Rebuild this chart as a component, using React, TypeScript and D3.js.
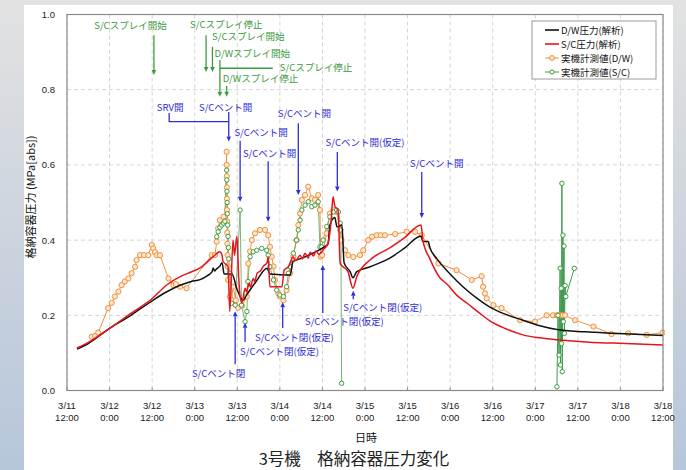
import * as d3 from 'd3';

// hours after 2011-03-11 12:00
const base = new Date(2011, 2, 11, 12, 0);
const toDate = (h: number) => new Date(base.getTime() + h * 3600e3);

type Pt = [number, number];

const legendLabels = ['D/W圧力(解析)', 'S/C圧力(解析)', '実機計測値(D/W)', '実機計測値(S/C)'];
const yTicks = [0, 0.2, 0.4, 0.6, 0.8, 1.0];

const dwAnalysis: Pt[] = [
  [2.8, 0.11], [6, 0.125], [12.1, 0.166], [18, 0.2], [24.2, 0.24], [28, 0.262], [31.9, 0.28], [35, 0.29],
  [37.5, 0.295], [39.5, 0.305], [40.9, 0.316], [41.2, 0.326], [41.6, 0.318], [42.0, 0.322], [43.1, 0.331],
  [43.7, 0.34], [44.3, 0.31], [45.4, 0.31], [46.5, 0.31], [47.9, 0.27], [49.6, 0.24], [50.7, 0.255],
  [53.3, 0.29], [56.4, 0.325], [57.2, 0.31], [60, 0.308], [62.9, 0.307], [63.7, 0.343], [65.7, 0.35],
  [69.3, 0.365], [72.2, 0.38], [73.6, 0.39], [74.1, 0.44], [75.5, 0.46], [76.1, 0.435], [77.5, 0.44],
  [78.1, 0.34], [79.8, 0.316], [80.6, 0.3], [81.7, 0.316], [85.4, 0.329], [91, 0.352], [95.3, 0.38],
  [99.8, 0.411], [100.3, 0.396], [101.8, 0.396], [102.3, 0.38], [104.3, 0.35], [108, 0.31], [111.6, 0.276],
  [115.6, 0.245], [119.2, 0.222], [123.5, 0.203], [128.5, 0.187], [133.3, 0.172], [138.1, 0.162],
  [146, 0.156], [153.9, 0.152], [168, 0.146],
];

const scAnalysis: Pt[] = [
  [2.8, 0.113], [6, 0.128], [12.1, 0.166], [18, 0.205], [24.2, 0.246], [28, 0.28], [31.9, 0.303], [35, 0.315],
  [37.5, 0.326], [41.2, 0.356], [43.1, 0.369], [43.7, 0.36], [44.0, 0.343], [45.4, 0.33], [45.9, 0.21],
  [46.8, 0.4], [47.2, 0.36], [47.9, 0.41], [48.4, 0.3], [48.8, 0.25], [49.3, 0.233], [50.2, 0.272],
  [50.6, 0.262], [51.3, 0.285], [51.7, 0.275], [52.5, 0.298], [52.9, 0.29], [53.6, 0.312], [54.5, 0.318],
  [55.3, 0.33], [56.4, 0.34], [56.7, 0.356], [57.2, 0.276], [60.6, 0.276], [61.2, 0.32], [62.5, 0.33],
  [63.7, 0.356], [64.5, 0.345], [65.7, 0.36], [66.3, 0.35], [67.1, 0.365], [68.0, 0.352], [68.5, 0.368],
  [69.5, 0.358], [70.2, 0.372], [71.0, 0.362], [72.2, 0.374], [73.5, 0.39], [74.4, 0.445], [75.0, 0.515],
  [75.5, 0.49], [76.4, 0.48], [77.0, 0.338], [79.2, 0.316], [80.6, 0.272], [81.7, 0.303], [85.4, 0.347],
  [91, 0.379], [95, 0.405], [99.8, 0.44], [100.3, 0.4], [102.3, 0.35], [105.1, 0.3], [107.1, 0.283],
  [109.9, 0.253], [112.8, 0.232], [116.4, 0.205], [119.2, 0.185], [123.5, 0.165], [128.5, 0.148],
  [133.3, 0.14], [139, 0.134], [147.4, 0.128], [153.9, 0.126], [168, 0.121],
];

const dwMeasured: Pt[] = [
  [6.96, 0.143], [7.9, 0.145], [8.8, 0.154], [11.6, 0.219], [12.6, 0.233], [13.5, 0.25], [14.5, 0.263],
  [15.4, 0.28], [16.3, 0.29], [17.3, 0.298], [18.2, 0.312], [19.2, 0.329], [19.6, 0.347], [20.6, 0.36],
  [21.7, 0.36], [22.9, 0.36], [23.9, 0.387], [24.3, 0.378], [24.8, 0.368], [25.3, 0.36], [26.2, 0.36],
  [28.6, 0.298], [30.0, 0.28], [30.7, 0.283], [31.9, 0.276], [33.7, 0.272],
  [40.8, 0.36], [41.7, 0.36], [42.2, 0.396], [42.6, 0.431], [43.1, 0.453], [44.1, 0.462], [44.5, 0.45],
  [45.0, 0.635], [45.02, 0.6], [45.04, 0.57], [45.06, 0.54], [45.08, 0.51], [45.1, 0.48], [45.12, 0.45],
  [45.15, 0.42], [45.2, 0.39], [45.25, 0.36], [45.3, 0.33], [45.4, 0.294], [45.9, 0.25], [46.4, 0.24],
  [46.8, 0.276], [47.6, 0.24], [48.2, 0.22], [49.3, 0.225], [50.7, 0.25], [51.1, 0.338], [51.6, 0.37],
  [52.1, 0.4], [53.0, 0.418], [54.4, 0.427], [55.8, 0.427], [56.7, 0.413], [57.2, 0.382], [57.7, 0.356],
  [58.2, 0.33], [58.6, 0.294], [59.6, 0.258], [60.0, 0.25], [61.0, 0.24], [61.9, 0.267], [62.9, 0.312],
  [63.8, 0.356], [64.7, 0.4], [65.2, 0.44], [65.7, 0.471], [66.2, 0.507], [67.1, 0.52], [68.0, 0.542],
  [69.0, 0.511], [69.9, 0.507], [70.8, 0.52], [71.3, 0.48], [71.5, 0.356], [71.9, 0.36], [73.2, 0.418],
  [74.1, 0.471], [75.1, 0.48], [76.0, 0.475], [77.0, 0.427], [77.4, 0.4], [78.4, 0.373], [79.3, 0.36],
  [80.7, 0.355], [82.6, 0.36], [83.5, 0.373], [84.9, 0.4], [86.0, 0.409], [87.3, 0.413], [88.4, 0.413],
  [89.6, 0.413], [92.5, 0.416], [95.8, 0.422], [98.1, 0.422], [100.0, 0.413], [104.7, 0.338],
  [109.8, 0.32], [114.1, 0.294], [116.9, 0.304], [117.3, 0.276], [117.8, 0.258], [118.3, 0.245],
  [120.2, 0.227], [122.5, 0.219], [127.7, 0.187], [131.9, 0.183], [135.2, 0.2], [137.0, 0.2], [138.1, 0.2],
  [138.6, 0.2], [139.0, 0.2], [139.6, 0.2], [140.4, 0.2], [143.2, 0.187], [148.4, 0.17], [153.5, 0.15],
  [158.2, 0.152], [163.4, 0.148], [167.9, 0.154],
];

const scMeasured1: Pt[] = [
  [42.2, 0.409], [42.6, 0.422], [43.1, 0.434], [43.6, 0.44], [44.1, 0.445], [44.5, 0.45], [45.0, 0.586],
  [45.05, 0.56], [45.1, 0.53], [45.15, 0.5], [45.2, 0.47], [45.3, 0.44], [45.4, 0.41], [45.5, 0.38],
  [45.6, 0.35], [45.9, 0.312], [46.4, 0.232], [47.4, 0.227], [48.8, 0.48], [49.2, 0.227], [50.2, 0.183],
  [50.7, 0.21], [51.0, 0.29], [51.6, 0.356], [52.5, 0.369], [53.5, 0.373], [54.9, 0.378], [56.3, 0.373],
  [56.7, 0.36], [57.2, 0.329], [58.2, 0.294], [59.1, 0.267], [60.0, 0.254], [61.0, 0.25], [61.9, 0.276],
  [62.4, 0.312], [62.9, 0.329], [63.8, 0.365], [64.7, 0.4], [65.2, 0.427], [65.7, 0.453], [66.2, 0.48],
  [67.1, 0.493], [68.0, 0.502], [69.0, 0.489], [69.9, 0.493], [70.8, 0.502], [71.3, 0.382], [71.8, 0.382],
  [72.2, 0.4], [73.2, 0.436], [74.1, 0.462], [75.1, 0.475], [76.0, 0.48], [76.5, 0.475], [77.0, 0.445],
  [77.2, 0.427], [77.4, 0.019],
];

const scMeasured2: Pt[] = [
  [138.1, 0.01], [138.4, 0.2], [138.7, 0.094], [139.0, 0.325], [139.1, 0.068], [139.3, 0.272],
  [139.4, 0.125], [139.5, 0.551], [139.6, 0.05], [139.8, 0.413], [139.9, 0.183], [140.1, 0.384],
  [140.2, 0.152], [140.4, 0.279], [140.6, 0.25], [143.0, 0.325],
];

type Note = {
  label: string;
  textH: number;
  textV: number;
  arrowH?: number;
  fromV?: number;
  toV?: number;
  path?: Pt[];
};

const sprayNotes: Note[] = [
  { label: 'S/Cスプレイ開始', textH: 7.7, textV: 0.972, arrowH: 24.5, fromV: 0.945, toV: 0.839 },
  { label: 'S/Cスプレイ停止', textH: 34.7, textV: 0.975, arrowH: 39.2, fromV: 0.945, toV: 0.847 },
  { label: 'S/Cスプレイ開始', textH: 40.9, textV: 0.943, arrowH: 41.0, fromV: 0.914, toV: 0.847 },
  { label: 'D/Wスプレイ開始', textH: 41.6, textV: 0.898, arrowH: 43.1, fromV: 0.879, toV: 0.781 },
  { label: 'S/Cスプレイ停止', textH: 60.0, textV: 0.861, path: [[43.1, 0.857], [58.0, 0.857]] },
  { label: 'D/Wスプレイ停止', textH: 43.9, textV: 0.831, arrowH: 45.0, fromV: 0.81, toV: 0.781 },
];

const ventNotes: Note[] = [
  { label: 'SRV開', textH: 25.3, textV: 0.754, path: [[28.8, 0.738], [28.8, 0.715], [45.6, 0.715]] },
  { label: 'S/Cベント開', textH: 37.2, textV: 0.754, arrowH: 45.6, fromV: 0.741, toV: 0.662 },
  { label: 'S/Cベント開', textH: 47.2, textV: 0.688, arrowH: 48.8, fromV: 0.664, toV: 0.502 },
  { label: 'S/Cベント開', textH: 49.6, textV: 0.632, arrowH: 56.7, fromV: 0.61, toV: 0.449 },
  { label: 'S/Cベント開', textH: 59.4, textV: 0.738, arrowH: 65.2, fromV: 0.711, toV: 0.52 },
  { label: 'S/Cベント開(仮定)', textH: 72.9, textV: 0.661, arrowH: 76.2, fromV: 0.634, toV: 0.529 },
  { label: 'S/Cベント開', textH: 96.7, textV: 0.605, arrowH: 100.0, fromV: 0.581, toV: 0.459 },
  { label: 'S/Cベント閉', textH: 35.2, textV: 0.047, arrowH: 47.4, fromV: 0.07, toV: 0.211 },
  { label: 'S/Cベント閉(仮定)', textH: 48.8, textV: 0.106, arrowH: 50.2, fromV: 0.129, toV: 0.18 },
  { label: 'S/Cベント閉(仮定)', textH: 53.0, textV: 0.143, arrowH: 60.8, fromV: 0.166, toV: 0.235 },
  { label: 'S/Cベント閉(仮定)', textH: 67.1, textV: 0.186, arrowH: 72.1, fromV: 0.206, toV: 0.334 },
  { label: 'S/Cベント閉(仮定)', textH: 77.9, textV: 0.222, arrowH: 80.7, fromV: 0.243, toV: 0.265 },
];

const font = "'Liberation Sans', 'Noto Sans CJK JP', sans-serif";
const jpFont = "'Noto Sans CJK JP', sans-serif";

function Arrow({ x1, y1, y2, color }: { x1: number; y1: number; y2: number; color: string }) {
  const dir = Math.sign(y2 - y1);
  const hl = 5;
  const hw = 2.3;
  return (
    <g>
      <line x1={x1} y1={y1} x2={x1} y2={y2 - dir * hl} stroke={color} strokeWidth={1.3} />
      <polygon points={`${x1},${y2} ${x1 - hw},${y2 - dir * hl} ${x1 + hw},${y2 - dir * hl}`} fill={color} />
    </g>
  );
}

export default function App() {
  const width = 686;
  const height = 470;
  const plot = { left: 67, right: 663, top: 14.5, bottom: 390.5 };

  const x = d3.scaleTime().domain([toDate(0), toDate(168)]).range([plot.left, plot.right]);
  const y = d3.scaleLinear().domain([0, 1]).range([plot.bottom, plot.top]);
  const px = (h: number) => x(toDate(h));

  const straight = d3.line<Pt>().x((d) => px(d[0])).y((d) => y(d[1]));
  const smooth = d3
    .line<Pt>()
    .x((d) => px(d[0]))
    .y((d) => y(d[1]))
    .curve(d3.curveMonotoneX);

  const xTicks = x.ticks(d3.timeHour.every(12)!);
  const fmtDay = d3.timeFormat('%-m/%-d');
  const fmtHour = d3.timeFormat('%-H:%M');

  const orange = '#f0913a';
  const green = '#3d9b3d';
  const blue = '#2e2ed6';
  const noteGreen = '#3c9a3c';

  const renderNotes = (notes: Note[], color: string) =>
    notes.map((n, i) => (
      <g key={i}>
        <text
          x={px(n.textH)}
          y={y(n.textV)}
          dominantBaseline="central"
          fontSize={9.5}
          fontFamily={jpFont}
          fill={color}
        >
          {n.label}
        </text>
        {n.path && (
          <path d={straight(n.path) ?? ''} fill="none" stroke={color} strokeWidth={1.3} />
        )}
        {n.arrowH !== undefined && (
          <Arrow x1={px(n.arrowH)} y1={y(n.fromV!)} y2={y(n.toV!)} color={color} />
        )}
      </g>
    ));

  return (
    <div style={{ position: 'absolute', left: 0, top: 0 }}>
      <svg width={width} height={height} style={{ display: 'block' }}>
        <defs>
          <linearGradient id="bg" x1="0" y1="0" x2="0" y2="1">
            <stop offset="0" stopColor="#e2e2e2" />
            <stop offset="1" stopColor="#b6c6da" />
          </linearGradient>
          <clipPath id="plotClip">
            <rect x={plot.left} y={plot.top - 2} width={plot.right - plot.left + 2} height={plot.bottom - plot.top + 4} />
          </clipPath>
        </defs>
        <rect x={0} y={0} width={width} height={height} fill="url(#bg)" />
        <rect x={24} y={5} width={649} height={465} fill="#ffffff" />

        {/* grid */}
        {xTicks.map((t, i) => (
          <line
            key={i}
            x1={x(t)}
            x2={x(t)}
            y1={plot.top}
            y2={plot.bottom}
            stroke="#d4d4d4"
            strokeDasharray="4,3"
          />
        ))}
        {yTicks.map((v) => (
          <line
            key={v}
            x1={plot.left}
            x2={plot.right}
            y1={y(v)}
            y2={y(v)}
            stroke="#d4d4d4"
            strokeDasharray="4,3"
          />
        ))}

        {/* x axis labels */}
        {xTicks.map((t, i) => (
          <g key={i} fontFamily={font} fontSize={9.5} fill="#222" textAnchor="middle">
            <line x1={x(t)} x2={x(t)} y1={plot.bottom} y2={plot.bottom - 3} stroke="#888" />
            <text x={x(t)} y={405} dominantBaseline="central">
              {fmtDay(t)}
            </text>
            <text x={x(t)} y={417.5} dominantBaseline="central">
              {fmtHour(t)}
            </text>
          </g>
        ))}
        {yTicks.map((v) => (
          <text
            key={v}
            x={55}
            y={y(v)}
            textAnchor="end"
            dominantBaseline="central"
            fontFamily={font}
            fontSize={9.5}
            fill="#222"
          >
            {d3.format('.1f')(v)}
          </text>
        ))}

        {/* measured */}
        <g clipPath="url(#plotClip)">
          <path d={straight(dwMeasured) ?? ''} fill="none" stroke={orange} strokeWidth={1} />
          <path d={straight(scMeasured1) ?? ''} fill="none" stroke="#6aaa6a" strokeWidth={0.9} />
          <path d={straight(scMeasured2) ?? ''} fill="none" stroke="#3f9a4f" strokeWidth={1} />
          {dwMeasured.map((d, i) => (
            <circle key={i} cx={px(d[0])} cy={y(d[1])} r={2.6} fill="#fde6cf" stroke={orange} strokeWidth={1} />
          ))}
          {[...scMeasured1, ...scMeasured2].map((d, i) => (
            <circle key={i} cx={px(d[0])} cy={y(d[1])} r={2.2} fill="#ffffff" stroke={green} strokeWidth={1} />
          ))}
          {/* analysis */}
          <path d={smooth(dwAnalysis) ?? ''} fill="none" stroke="#111" strokeWidth={1.5} />
          <path d={smooth(scAnalysis) ?? ''} fill="none" stroke="#e8141c" strokeWidth={1.5} />
        </g>

        {/* frame */}
        <rect
          x={plot.left}
          y={plot.top}
          width={plot.right - plot.left}
          height={plot.bottom - plot.top}
          fill="none"
          stroke="#8a8a8a"
          strokeWidth={1.2}
        />

        {renderNotes(sprayNotes, noteGreen)}
        {renderNotes(ventNotes, blue)}

        {/* legend */}
        <g fontFamily={jpFont} fontSize={9.5} fill="#111">
          <rect x={532} y={21} width={124} height={58} fill="#fff" stroke="#9a9a9a" strokeWidth={1} />
          {legendLabels.map((label, i) => {
            const ly = 30 + i * 14;
            const color = i === 0 ? '#111' : i === 1 ? '#e8141c' : i === 2 ? orange : green;
            return (
              <g key={label}>
                <line x1={545} x2={559} y1={ly} y2={ly} stroke={color} strokeWidth={i < 2 ? 1.6 : 1} />
                {i === 2 && <circle cx={552} cy={ly} r={2.4} fill="#fde6cf" stroke={orange} />}
                {i === 3 && <circle cx={552} cy={ly} r={2.1} fill="#fff" stroke={green} />}
                <text x={561} y={ly} dominantBaseline="central">
                  {label}
                </text>
              </g>
            );
          })}
        </g>

        {/* axis titles */}
        <text
          transform="translate(30,197) rotate(-90)"
          textAnchor="middle"
          dominantBaseline="central"
          fontFamily={jpFont}
          fontSize={11}
          fill="#111"
        >
          格納容器圧力 (MPa[abs])
        </text>
        <text x={366} y={437} textAnchor="middle" dominantBaseline="central" fontFamily={jpFont} fontSize={11} fill="#111">
          日時
        </text>
        <text x={354} y={458} textAnchor="middle" dominantBaseline="central" fontFamily={jpFont} fontSize={16.5} fill="#222">
          3号機　格納容器圧力変化
        </text>
      </svg>
    </div>
  );
}
